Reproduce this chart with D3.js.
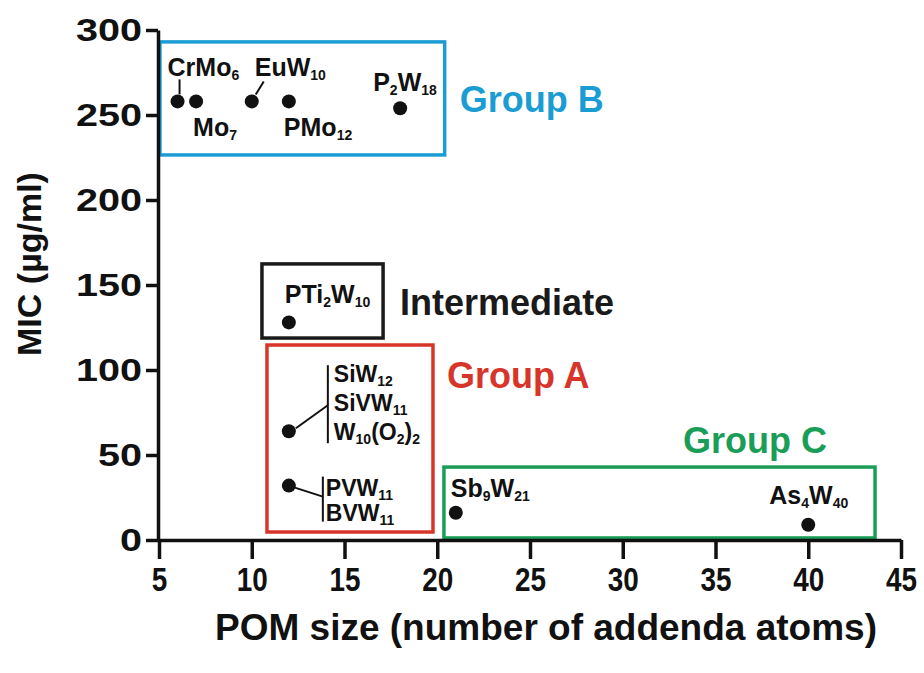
<!DOCTYPE html>
<html>
<head>
<meta charset="utf-8">
<script src="https://cdn.jsdelivr.net/npm/d3@7"></script>
<style>
  body { margin: 0; background: #ffffff; }
  text { font-family: "Liberation Sans", Arial, sans-serif; font-weight: 700; }
</style>
</head>
<body>
<div id="viz"></div>
<script>
document.addEventListener("DOMContentLoaded", () => {

  // ---- data ----
  const compounds = ["CrMo6", "Mo7", "EuW10", "PMo12", "P2W18", "PTi2W10", "SiW12 / SiVW11 / W10(O2)2", "PVW11 / BVW11", "Sb9W21", "As4W40"]
  const addenda = [6, 7, 10, 12, 18, 12, 12, 12, 21, 40]
  const mic = [258, 258, 258, 258, 254, 128, 64, 32, 16, 9]

  const xTicks = [5, 10, 15, 20, 25, 30, 35, 40, 45]
  const yTicks = [0, 50, 100, 150, 200, 250, 300]

  // group boxes in data units: [x0, x1, y0, y1]
  const groupNames = ["Group B", "Intermediate", "Group A", "Group C"]
  const groupBoxes = [[5.05, 20.4, 226.5, 293], [10.55, 17.08, 118.8, 162.4], [10.82, 19.77, 4.7, 114.7], [20.36, 43.6, 1.2, 42.9]]
  const groupColors = ["#1b9dd3", "#1a1a1a", "#d8352a", "#1a9e57"]

  const width = 924
  const height = 673

  const svg = d3.select("#viz").append("svg")
    .attr("width", width)
    .attr("height", height)

  const x = d3.scaleLinear().domain([5, 45]).range([159, 901])
  const y = d3.scaleLinear().domain([0, 300]).range([540, 30])

  // ---- group boxes ----
  groupBoxes.forEach((b, i) => {
    svg.append("rect")
      .attr("x", x(b[0]))
      .attr("y", y(b[3]))
      .attr("width", x(b[1]) - x(b[0]))
      .attr("height", y(b[2]) - y(b[3]))
      .attr("fill", "none")
      .attr("stroke", groupColors[i])
      .attr("stroke-width", 3.5)
  })

  // group titles, placed relative to their box
  const groupLabelPos = [
    { ref: "right", dx: 15, y: 112 },
    { ref: "right", dx: 17, y: 315 },
    { ref: "right", dx: 14, y: 388 },
    { ref: "left", dx: 239, y: 453 }
  ]
  groupNames.forEach((name, i) => {
    const b = groupBoxes[i]
    const p = groupLabelPos[i]
    const bx = p.ref === "right" ? x(b[1]) : x(b[0])
    svg.append("text")
      .attr("x", bx + p.dx)
      .attr("y", p.y)
      .attr("font-size", 36)
      .attr("fill", groupColors[i])
      .text(name)
  })

  // ---- axes ----
  const xAxis = svg.append("g")
    .attr("transform", "translate(0,540)")
    .call(d3.axisBottom(x).tickValues(xTicks).tickSize(19).tickSizeOuter(0).tickPadding(8))

  xAxis.selectAll("text")
    .attr("font-size", 34)
    .attr("fill", "#111")
    .attr("textLength", d => String(d).length * 15.5)
    .attr("lengthAdjust", "spacingAndGlyphs")
    .style("font-weight", 700)

  const yAxis = svg.append("g")
    .attr("transform", "translate(158,0)")
    .call(d3.axisLeft(y).tickValues(yTicks).tickSize(12).tickSizeOuter(0).tickPadding(4))

  yAxis.selectAll("text")
    .attr("font-size", 32)
    .attr("fill", "#111")
    .attr("textLength", d => String(d).length * 22)
    .attr("lengthAdjust", "spacingAndGlyphs")
    .style("font-weight", 700)

  svg.selectAll(".domain, .tick line")
    .attr("stroke", "#111")
    .attr("stroke-width", 3.5)

  // axis titles
  svg.append("text")
    .attr("x", 546)
    .attr("y", 640)
    .attr("text-anchor", "middle")
    .attr("font-size", 37)
    .attr("fill", "#111")
    .text("POM size (number of addenda atoms)")

  svg.append("text")
    .attr("transform", "translate(41,264) rotate(-90)")
    .attr("text-anchor", "middle")
    .attr("font-size", 34)
    .attr("fill", "#111")
    .text("MIC (µg/ml)")

  // ---- points ----
  svg.selectAll("circle.pt")
    .data(addenda)
    .enter()
    .append("circle")
    .attr("class", "pt")
    .attr("cx", d => x(d))
    .attr("cy", (d, i) => y(mic[i]))
    .attr("r", 7)
    .attr("fill", "#111")

  // ---- point labels (parts: [text, isSub]) ----
  const labelParts = [
    [[["CrMo", 0], ["6", 1]]],
    [[["Mo", 0], ["7", 1]]],
    [[["EuW", 0], ["10", 1]]],
    [[["PMo", 0], ["12", 1]]],
    [[["P", 0], ["2", 1], ["W", 0], ["18", 1]]],
    [[["PTi", 0], ["2", 1], ["W", 0], ["10", 1]]],
    [[["SiW", 0], ["12", 1]], [["SiVW", 0], ["11", 1]], [["W", 0], ["10", 1], ["(O", 0], ["2", 1], [")", 0], ["2", 1]]],
    [[["PVW", 0], ["11", 1]], [["BVW", 0], ["11", 1]]],
    [[["Sb", 0], ["9", 1], ["W", 0], ["21", 1]]],
    [[["As", 0], ["4", 1], ["W", 0], ["40", 1]]]
  ]
  // label offsets relative to point: dx, dy of first line, line gap, font size
  const labelLayout = [
    { dx: -10, dy: -25, gap: 0, fs: 25 },
    { dx: -3, dy: 35, gap: 0, fs: 25 },
    { dx: 3, dy: -25, gap: 0, fs: 25 },
    { dx: -5, dy: 35, gap: 0, fs: 25 },
    { dx: -27, dy: -17, gap: 0, fs: 25 },
    { dx: -4, dy: -19, gap: 0, fs: 25 },
    { dx: 45, dy: -49, gap: 29, fs: 23 },
    { dx: 37, dy: 10, gap: 25, fs: 23 },
    { dx: -5, dy: -16, gap: 0, fs: 25 },
    { dx: -39, dy: -21, gap: 0, fs: 25 }
  ]
  // leader lines relative to point: [x1, y1, x2, y2]; bars: [x, y1, y2]
  const leaders = [[2, -7, 2, -22], null, [4, -7, 12, -20], null, null, null, [7, -3, 39, -26], [6, 2, 34, 11], null, null]
  const bars = [null, null, null, null, null, null, [39, -66, 12], [34, -9, 36], null, null]

  labelParts.forEach((lines, i) => {
    const px = x(addenda[i])
    const py = y(mic[i])
    const L = labelLayout[i]
    lines.forEach((parts, j) => {
      const t = svg.append("text")
        .attr("x", px + L.dx)
        .attr("y", py + L.dy + j * L.gap)
        .attr("font-size", L.fs)
        .attr("fill", "#111")
      parts.forEach(pt => {
        const s = t.append("tspan").text(pt[0])
        if (pt[1]) {
          s.attr("font-size", 14).attr("dy", 4)
        } else if (t.selectAll("tspan").size() > 1) {
          s.attr("dy", -4)
        }
      })
    })
    if (leaders[i]) {
      const l = leaders[i]
      svg.append("line")
        .attr("x1", px + l[0]).attr("y1", py + l[1])
        .attr("x2", px + l[2]).attr("y2", py + l[3])
        .attr("stroke", "#111")
        .attr("stroke-width", 2)
    }
    if (bars[i]) {
      const b = bars[i]
      svg.append("line")
        .attr("x1", px + b[0]).attr("y1", py + b[1])
        .attr("x2", px + b[0]).attr("y2", py + b[2])
        .attr("stroke", "#111")
        .attr("stroke-width", 2)
    }
  })

})
</script>
</body>
</html>
